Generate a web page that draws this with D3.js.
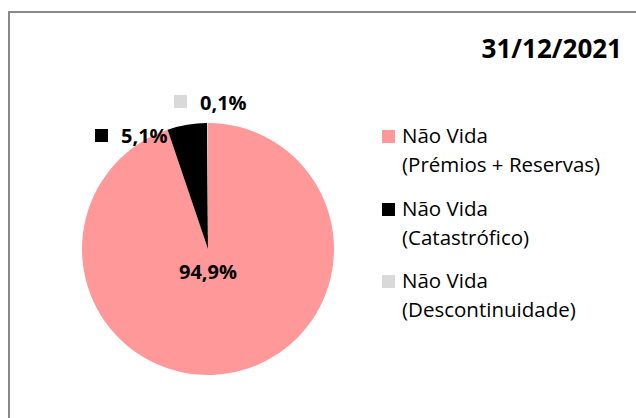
<!DOCTYPE html>
<html><head><meta charset="utf-8">
<script src="https://cdn.jsdelivr.net/npm/d3@7"></script>
<style>body{margin:0;background:#fff}svg{display:block}</style>
</head><body>
<script>
const categories = ["Não Vida (Prémios + Reservas)", "Não Vida (Catastrófico)", "Não Vida (Descontinuidade)"];
const legendLines = [["Não Vida", "(Prémios + Reservas)"], ["Não Vida", "(Catastrófico)"], ["Não Vida", "(Descontinuidade)"]];
const values = [94.9, 5.1, 0.1];
const labels = ["94,9%", "5,1%", "0,1%"];
const colors = ["#FF9999", "#000000", "#D9D9D9"];
const title = "31/12/2021";

const W = 636, H = 418;
const font = "'Open Sans', sans-serif";
const svg = d3.select("body").append("svg").attr("width", W).attr("height", H);

svg.append("rect").attr("x", 9).attr("y", 12).attr("width", W).attr("height", H)
  .attr("fill", "#fff").attr("stroke", "#898989").attr("stroke-width", 2);

svg.append("text").attr("x", 622).attr("y", 58).attr("text-anchor", "end")
  .attr("font-family", font).attr("font-weight", "bold").attr("font-size", 26)
  .attr("fill", "#000").text(title);

const cx = 208, cy = 249, r = 126;
const pie = d3.pie().sort(null).value(d => d)
  .startAngle(0).endAngle(2 * Math.PI);
const arcs = pie(values);
const arc = d3.arc().innerRadius(0).outerRadius(r);
const g = svg.append("g").attr("transform", `translate(${cx},${cy})`);
g.selectAll("path").data(arcs).join("path")
  .attr("d", arc).attr("fill", (d, i) => colors[i]);

const lab = svg.append("g").attr("font-family", font).attr("font-weight", "bold").attr("font-size", 20);
lab.append("text").attr("x", cx).attr("y", 279).attr("text-anchor", "middle").text(labels[0]);
const small = [
  {i: 1, sx: 95, sy: 129, tx: 121, ty: 143},
  {i: 2, sx: 174, sy: 95, tx: 200, ty: 110}
];
small.forEach(s => {
  lab.append("rect").attr("x", s.sx).attr("y", s.sy).attr("width", 13).attr("height", 13).attr("fill", colors[s.i]);
  lab.append("text").attr("x", s.tx).attr("y", s.ty).text(labels[s.i]);
});

const leg = svg.append("g").attr("font-family", font).attr("font-size", 20.5).attr("fill", "#000");
const legY = [143, 216, 288];
legendLines.forEach((lines, i) => {
  leg.append("rect").attr("x", 382).attr("y", legY[i] - 13).attr("width", 13).attr("height", 13).attr("fill", colors[i]);
  leg.append("text").attr("x", 402).attr("y", legY[i]).text(lines[0]);
  leg.append("text").attr("x", 402).attr("y", legY[i] + 29).text(lines[1]);
});
</script>
</body></html>
